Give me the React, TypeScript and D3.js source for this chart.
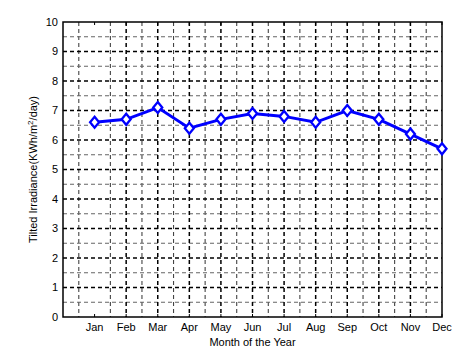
import React, { useEffect, useRef } from 'react';
import * as d3 from 'd3';

const months = ['Jan', 'Feb', 'Mar', 'Apr', 'May', 'Jun', 'Jul', 'Aug', 'Sep', 'Oct', 'Nov', 'Dec'];
const irradiance = [6.6, 6.7, 7.1, 6.4, 6.7, 6.9, 6.8, 6.6, 7.0, 6.7, 6.2, 5.7];
const yTicks = [0, 1, 2, 3, 4, 5, 6, 7, 8, 9, 10];

const W = 475;
const H = 352;

const App = () => {
  const ref = useRef<SVGSVGElement>(null);

  useEffect(() => {
    const svg = d3.select(ref.current);
    svg.selectAll('*').remove();

    const margin = { top: 22, right: 33, bottom: 35, left: 63 };
    const iw = W - margin.left - margin.right;
    const ih = H - margin.top - margin.bottom;

    const x = d3.scaleLinear().domain([0, 12]).range([0, iw]);
    const y = d3.scaleLinear().domain([0, 10]).range([ih, 0]);

    svg.append('rect').attr('width', W).attr('height', H).attr('fill', '#fff');

    const g = svg.append('g').attr('transform', `translate(${margin.left},${margin.top})`);

    // minor grid (halves)
    const halves = d3.range(0.5, 12, 1);
    g.selectAll('.vminor').data(halves).enter().append('line')
      .attr('x1', d => x(d)).attr('x2', d => x(d))
      .attr('y1', 0).attr('y2', ih)
      .attr('stroke', '#444').attr('stroke-width', 1.1).attr('stroke-dasharray', '4,3');
    const yHalves = d3.range(0.5, 10, 1);
    g.selectAll('.hminor').data(yHalves).enter().append('line')
      .attr('x1', 0).attr('x2', iw)
      .attr('y1', d => y(d)).attr('y2', d => y(d))
      .attr('stroke', '#666').attr('stroke-width', 1.1).attr('stroke-dasharray', '4,3');

    // major grid
    const vMajor = d3.range(2, 12);
    g.selectAll('.vmajor').data(vMajor).enter().append('line')
      .attr('x1', d => x(d)).attr('x2', d => x(d))
      .attr('y1', 0).attr('y2', ih)
      .attr('stroke', '#000').attr('stroke-width', 1.5).attr('stroke-dasharray', '4,3');
    g.selectAll('.hmajor').data(yTicks.slice(1, -1)).enter().append('line')
      .attr('x1', 0).attr('x2', iw)
      .attr('y1', d => y(d)).attr('y2', d => y(d))
      .attr('stroke', '#000').attr('stroke-width', 1.5).attr('stroke-dasharray', '4,3');

    // inward ticks
    months.forEach((m, i) => {
      g.append('line').attr('x1', x(i + 1)).attr('x2', x(i + 1)).attr('y1', ih).attr('y2', ih - 3)
        .attr('stroke', '#000').attr('stroke-width', 1);
      g.append('line').attr('x1', x(i + 1)).attr('x2', x(i + 1)).attr('y1', 0).attr('y2', 3)
        .attr('stroke', '#000').attr('stroke-width', 1);
    });

    // frame
    g.append('rect').attr('width', iw).attr('height', ih)
      .attr('fill', 'none').attr('stroke', '#000').attr('stroke-width', 1.5);

    // y tick labels
    g.selectAll('.ylab').data(yTicks).enter().append('text')
      .attr('x', -5).attr('y', d => y(d)).attr('dy', '0.35em')
      .attr('text-anchor', 'end')
      .style('font-family', 'Liberation Sans, Arial, sans-serif').style('font-size', '11px')
      .text(d => d);

    // x tick labels
    g.selectAll('.xlab').data(months).enter().append('text')
      .attr('x', (d, i) => x(i + 1)).attr('y', ih + 14)
      .attr('text-anchor', 'middle')
      .style('font-family', 'Liberation Sans, Arial, sans-serif').style('font-size', '11px')
      .text(d => d);

    // line
    const line = d3.line<number>().x((d, i) => x(i + 1)).y(d => y(d));
    g.append('path').datum(irradiance)
      .attr('fill', 'none').attr('stroke', '#0000ff').attr('stroke-width', 3)
      .attr('d', line);

    // diamond markers
    g.selectAll('.mk').data(irradiance).enter().append('path')
      .attr('d', 'M0,-5.5L4.5,0L0,5.5L-4.5,0Z')
      .attr('transform', (d, i) => `translate(${x(i + 1)},${y(d)})`)
      .attr('fill', '#fff').attr('stroke', '#0000ff').attr('stroke-width', 2.3);

    // axis labels
    svg.append('text')
      .attr('x', margin.left + iw / 2).attr('y', H - 6)
      .attr('text-anchor', 'middle')
      .style('font-family', 'Liberation Sans, Arial, sans-serif').style('font-size', '11px')
      .text('Month of the Year');

    const yl = svg.append('text')
      .attr('transform', `translate(37,${margin.top + ih / 2}) rotate(-90)`)
      .attr('text-anchor', 'middle')
      .style('font-family', 'Liberation Sans, Arial, sans-serif').style('font-size', '11px');
    yl.append('tspan').text('Tilted Irradiance(KWh/m');
    yl.append('tspan').attr('dy', -4).style('font-size', '8px').text('2');
    yl.append('tspan').attr('dy', 4).text('/day)');
  }, []);

  return (
    <svg ref={ref} width={W} height={H}
      style={{ position: 'absolute', left: 0, top: 0, display: 'block' }} />
  );
};

export default App;
